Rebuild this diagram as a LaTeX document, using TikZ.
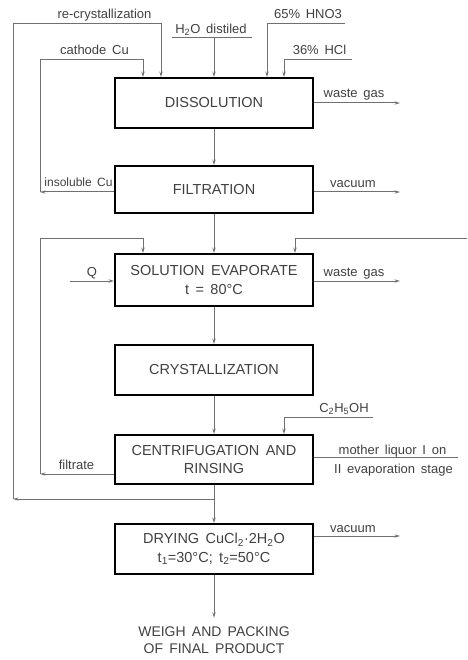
\documentclass[tikz,border=0pt]{standalone}
\usepackage{fontspec}
\setmainfont[WordSpace=1.6]{Liberation Sans}
\usetikzlibrary{arrows.meta}
\definecolor{linegray}{HTML}{707070}
\definecolor{textgray}{HTML}{404040}

\tikzset{
    stage/.style={draw=black, line width=1.8pt, minimum width=198pt, inner sep=2pt,
        align=center, text=textgray, font=\fontsize{14.5}{18.5}\selectfont},
    lbl/.style={anchor=base, inner sep=0pt, text=textgray, font=\fontsize{13}{16}\selectfont},
    pipe/.style={draw=linegray, line width=1pt},
    flow/.style={pipe, -{Stealth[length=5.5pt, width=3.2pt]}}
}

\begin{document}
\begin{tikzpicture}[x=1pt, y=-1pt]

                            \useasboundingbox (0,0) rectangle (467,660);

                            \node[stage, minimum height=50pt] (dis)  at (214,103)   {DISSOLUTION};
                            \node[stage, minimum height=47pt] (fil)  at (214,189.5) {FILTRATION};
                            \node[stage, minimum height=52pt] (evap) at (214,280)   {SOLUTION EVAPORATE\\t = 80°C};
                            \node[stage, minimum height=50pt] (cry)  at (214,370)   {CRYSTALLIZATION};
                            \node[stage, minimum height=49pt] (cen)  at (214,459.5) {CENTRIFUGATION AND\\RINSING};
                            \node[stage, minimum height=50pt] (dry)  at (214,549)
                                {DRYING CuCl\textsubscript{2}·2H\textsubscript{2}O\\t\textsubscript{1}=30°C; t\textsubscript{2}=50°C};
                            \node[lbl, anchor=center, align=center, inner xsep=1pt, inner ysep=9pt,
                                font=\fontsize{14}{17}\selectfont] (prod) at (214,640.5)
                                {WEIGH AND PACKING\\OF FINAL PRODUCT};

                            \node[lbl] (rcLbl)  at (104.5,18.5) {re-crystallization};
                            \node[lbl] (h2oLbl) at (211,33.5)   {H\textsubscript{2}O distiled};
                            \node[lbl] (hnoLbl) at (308,18.5)   {65\% HNO3};
                            \node[lbl] (cuLbl)  at (94.5,55)    {cathode Cu};
                            \node[lbl] (hclLbl) at (319.5,55)   {36\% HCl};
                            \node[lbl] (gasLbl) at (354,97.5)   {waste gas};
                            \node[lbl, font=\fontsize{12}{14}\selectfont] (insLbl) at (78.5,187) {insoluble Cu};
                            \node[lbl] (vacLbl) at (353,188)    {vacuum};
                            \node[lbl] (qLbl)   at (92,276.5)   {Q};
                            \node[lbl] (gasLblb) at (354,276.5) {waste gas};
                            \node[lbl] (etLbl)  at (344,412)    {C\textsubscript{2}H\textsubscript{5}OH};
                            \node[lbl] (mlLbl)  at (392.5,454)  {mother liquor I on};
                            \node[lbl] (mlLblb) at (393.5,473)  {II evaporation stage};
                            \node[lbl] (ftLbl)  at (76.5,469)   {filtrate};
                            \node[lbl] (vacLblb) at (353,532.5) {vacuum};

                            \coordinate (rcTop) at (13,24);
                            \coordinate (rcIn)  at (161,24);
                            \coordinate (rcBot) at (13,499);
                            \coordinate (rcBr)  at (214,499);
                            \coordinate (cuTop) at (40,60);
                            \coordinate (cuIn)  at (143,60);
                            \coordinate (cuBot) at (40,192);
                            \coordinate (h2oL)  at (172,38);
                            \coordinate (h2oR)  at (252,38);
                            \coordinate (hnoL)  at (267,24);
                            \coordinate (hnoR)  at (345,24);
                            \coordinate (hclL)  at (284,60);
                            \coordinate (hclR)  at (352,60);
                            \coordinate (gasa)  at (400,103);
                            \coordinate (vaca)  at (400,192);
                            \coordinate (ftBot) at (40,474);
                            \coordinate (ftTop) at (40,238);
                            \coordinate (ftIn)  at (143,238);
                            \coordinate (mlEdge) at (467,238);
                            \coordinate (mlIn)  at (295,238);
                            \coordinate (qIn)   at (70,281);
                            \coordinate (gasb)  at (400,281);
                            \coordinate (etL)   at (284,417);
                            \coordinate (etR)   at (373,417);
                            \coordinate (mlOut) at (458,457);
                            \coordinate (vacb)  at (400,536);

                            \draw[flow] (dis) -- (fil);
                            \draw[flow] (fil) -- (evap);
                            \draw[flow] (evap) -- (cry);
                            \draw[flow] (cry) -- (cen);
                            \draw[flow] (cen) -- (dry);
                            \draw[flow] (dry) -- (prod);

                            \draw[flow] (rcBr) -- (rcBot);
                            \draw[flow] (rcBot) -- (rcTop) -- (rcIn) -- (rcIn |- dis.north);
                            \draw[flow] (fil.west |- cuBot) -- (cuBot);
                            \draw[flow] (cuBot) -- (cuTop) -- (cuIn) -- (cuIn |- dis.north);
                            \draw[pipe] (h2oL) -- (h2oR);
                            \draw[flow] (dis.north |- h2oL) -- (dis.north);
                            \draw[flow] (hnoR) -- (hnoL) -- (hnoL |- dis.north);
                            \draw[flow] (hclR) -- (hclL) -- (hclL |- dis.north);
                            \draw[flow] (dis.east |- gasa) -- (gasa);
                            \draw[flow] (fil.east |- vaca) -- (vaca);

                            \draw[flow] (cen.west |- ftBot) -- (ftBot);
                            \draw[flow] (ftBot) -- (ftTop) -- (ftIn) -- (ftIn |- evap.north);
                            \draw[flow] (mlEdge) -- (mlIn) -- (mlIn |- evap.north);
                            \draw[flow] (qIn) -- (evap.west |- qIn);
                            \draw[flow] (evap.east |- gasb) -- (gasb);
                            \draw[flow] (etR) -- (etL) -- (etL |- cen.north);
                            \draw[pipe] (cen.east |- mlOut) -- (mlOut);
                            \draw[flow] (dry.east |- vacb) -- (vacb);
                        \end{tikzpicture}
\end{document}
